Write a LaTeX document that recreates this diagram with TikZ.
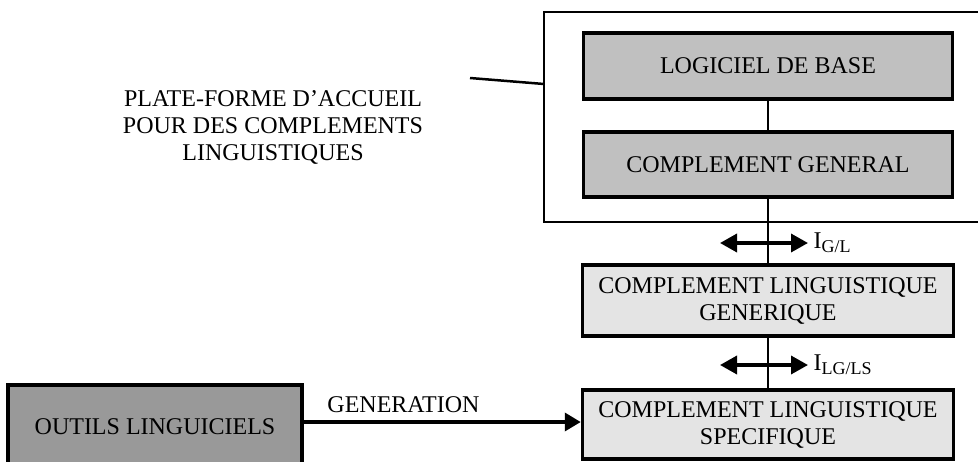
\documentclass[tikz,border=0pt]{standalone}
\usepackage{fontspec}
\setmainfont{Liberation Serif}
\usetikzlibrary{arrows.meta,positioning}

\definecolor{boxgray}{HTML}{C0C0C0}
\definecolor{lightgray}{HTML}{E4E4E4}
\definecolor{darkgray}{HTML}{999999}

\begin{document}
\begin{tikzpicture}[x=1pt,y=-1pt,
  bloc/.style = {draw,line width=3.5pt,minimum width=369pt,align=center,
                 font=\fontsize{24}{27}\selectfont},
  link/.style = {line width=2.5pt},
  twoway/.style = {line width=3.5pt,{Triangle[length=17pt,width=18pt]}-{Triangle[length=17pt,width=18pt]}},
  lbl/.style = {font=\fontsize{24}{27}\selectfont,align=center}]
\useasboundingbox (0,0) rectangle (978,461);
\clip (0,0) rectangle (978,461);
% plate-forme
\draw[line width=2.5pt] (544,12) rectangle (995,222);
\coordinate (frame) at (544,84);
\node[bloc,fill=boxgray,minimum height=66pt] (base) at (768,66) {LOGICIEL DE BASE};
\node[bloc,fill=boxgray,minimum height=65pt] (general) at (768,164.5) {COMPLEMENT GENERAL};
\node[bloc,fill=lightgray,minimum width=371pt,minimum height=71pt] (generique) at (768,300.5)
  {COMPLEMENT LINGUISTIQUE\\GENERIQUE};
\node[bloc,fill=lightgray,minimum width=371pt,minimum height=69pt] (specifique) at (768,424.5)
  {COMPLEMENT LINGUISTIQUE\\SPECIFIQUE};
\node[bloc,fill=darkgray,minimum width=294pt,minimum height=84pt] (outils) at (155,427)
  {OUTILS LINGUICIELS};
\node[lbl] (accueil) at (273,127) {PLATE-FORME D'ACCUEIL\\POUR DES COMPLEMENTS\\LINGUISTIQUES};
\coordinate (callout) at (470,78);
\draw[link] (callout) -- (frame);
% liaisons
\draw[link] (base) -- (general);
\draw[link] (general) -- (generique);
\draw[link] (generique) -- (specifique);
% interfaces
\coordinate (igl) at (768,243);
\coordinate (ilgls) at (768,365);
\draw[twoway] ([xshift=-48pt]igl) -- ([xshift=40pt]igl);
\draw[twoway] ([xshift=-48pt]ilgls) -- ([xshift=40pt]ilgls);
\node[lbl,anchor=west] (ilabel1) at ([xshift=42pt]igl) {I\textsubscript{\fontsize{18}{18}\selectfont G/L}};
\node[lbl,anchor=west] (ilabel2) at ([xshift=42pt]ilgls) {I\textsubscript{\fontsize{18}{18}\selectfont LG/LS}};
% generation
\draw[line width=3.5pt,-{Triangle[length=16pt,width=18pt]}] (outils.east |- 0,422) -- (specifique.west |- 0,422)
  node[lbl,pos=0.36,above=4pt] (gen) {GENERATION};
\end{tikzpicture}
\end{document}
